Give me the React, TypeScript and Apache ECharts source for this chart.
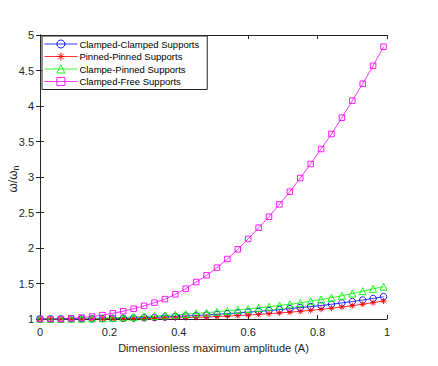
import React, { useEffect, useRef } from "react";
import * as echarts from "echarts";

const amplitude = [
  0, 0.03, 0.06, 0.09, 0.12, 0.15, 0.18, 0.21, 0.24, 0.27, 0.3, 0.33, 0.36, 0.39, 0.42, 0.45, 0.48,
  0.51, 0.54, 0.57, 0.6, 0.63, 0.66, 0.69, 0.72, 0.75, 0.78, 0.81, 0.84, 0.87, 0.9, 0.93, 0.96, 0.99,
];

const clampedClamped = [
  1, 1, 1, 1.001, 1.002, 1.003, 1.005, 1.007, 1.01, 1.014, 1.018, 1.023, 1.029, 1.035, 1.042, 1.049,
  1.057, 1.066, 1.075, 1.085, 1.096, 1.107, 1.119, 1.132, 1.145, 1.16, 1.175, 1.19, 1.207, 1.226,
  1.246, 1.267, 1.29, 1.314,
];

const pinnedPinned = [
  1, 1, 1, 1, 1.0005, 1.001, 1.0015, 1.002, 1.004, 1.005, 1.007, 1.009, 1.012, 1.015, 1.019, 1.024,
  1.029, 1.034, 1.041, 1.048, 1.056, 1.065, 1.075, 1.085, 1.096, 1.108, 1.122, 1.137, 1.152, 1.169,
  1.188, 1.208, 1.23, 1.254,
];

const clampePinned = [
  1, 1, 1.001, 1.003, 1.005, 1.008, 1.012, 1.016, 1.022, 1.028, 1.035, 1.042, 1.05, 1.059, 1.069,
  1.079, 1.09, 1.102, 1.115, 1.128, 1.142, 1.157, 1.173, 1.19, 1.207, 1.226, 1.25, 1.275, 1.3, 1.328,
  1.36, 1.392, 1.425, 1.455,
];

const clampedFree = [
  1, 1, 1, 1.01, 1.02, 1.035, 1.055, 1.08, 1.11, 1.145, 1.185, 1.23, 1.28, 1.348, 1.427, 1.521, 1.615,
  1.723, 1.845, 1.981, 2.127, 2.286, 2.441, 2.615, 2.793, 2.986, 3.183, 3.394, 3.606, 3.835, 4.075,
  4.314, 4.567, 4.835,
];

const seriesNames = [
  "Clamped-Clamped Supports",
  "Pinned-Pinned Supports",
  "Clampe-Pinned Supports",
  "Clamped-Free Supports",
];

const FONT = "Liberation Sans, Arial, sans-serif";
const AXIS_COLOR = "#262626";
const CLEAR = "rgba(255,255,255,0)";
const ASTERISK =
  "path://M0,-1L0,1M-1,0L1,0M-0.7,-0.7L0.7,0.7M-0.7,0.7L0.7,-0.7";

function pairs(ys: number[]) {
  return amplitude.map((x, i) => [x, ys[i]]);
}

export default function App() {
  const ref = useRef<HTMLDivElement>(null);
  useEffect(() => {
    document.body.style.margin = "0";
    const chart = echarts.init(ref.current!, null, { renderer: "svg" });
    const axisCommon = {
      axisLine: { show: true, lineStyle: { color: AXIS_COLOR, width: 1 } },
      axisTick: { show: true, inside: true, length: 4, lineStyle: { color: AXIS_COLOR } },
      splitLine: { show: false },
    };
    const mk = (name: string, data: number[], color: string, symbol: string, size: number) => ({
      name,
      type: "line",
      data: pairs(data),
      symbol,
      symbolSize: size,
      showAllSymbol: true,
      color,
      lineStyle: { color, width: 0.8 },
      itemStyle: { color: CLEAR, borderColor: color, borderWidth: 0.9 },
      emphasis: { disabled: true },
    });
    chart.setOption({
      animation: false,
      backgroundColor: "#ffffff",
      textStyle: { fontFamily: FONT },
      grid: { left: 40, right: 51, top: 35, bottom: 47, containLabel: false, outerBoundsMode: "none" },
      legend: {
        orient: "vertical",
        left: 42,
        top: 36,
        padding: [3, 8, 3, 2],
        itemGap: 2.5,
        itemWidth: 33,
        itemHeight: 10,
        backgroundColor: "#ffffff",
        borderColor: AXIS_COLOR,
        borderWidth: 1,
        lineStyle: { width: 0.8 },
        itemStyle: { color: CLEAR, borderWidth: 0.9 },
        textStyle: { fontFamily: FONT, fontSize: 9.5, color: "#000000", padding: [0, 0, 0, -3] },
        data: seriesNames,
      },
      graphic: [
        {
          type: "text",
          x: 13,
          y: 179,
          rotation: Math.PI / 2,
          style: {
            text: "{a|ω/ω}{s|n}",
            align: "center",
            verticalAlign: "middle",
            rich: {
              a: { fontFamily: FONT, fontSize: 12, fill: AXIS_COLOR, color: AXIS_COLOR },
              s: {
                fontFamily: FONT,
                fontSize: 9,
                fill: AXIS_COLOR,
                color: AXIS_COLOR,
                verticalAlign: "bottom",
                padding: [6, 0, 0, 0],
              },
            },
          },
        },
      ],
      xAxis: [
        {
          type: "value",
          min: 0,
          max: 1,
          interval: 0.2,
          position: "bottom",
          name: "Dimensionless maximum amplitude (A)",
          nameLocation: "middle",
          nameGap: 23,
          nameTextStyle: { fontFamily: FONT, fontSize: 11, color: AXIS_COLOR },
          axisLabel: { fontFamily: FONT, fontSize: 11, color: AXIS_COLOR, margin: 7 },
          ...axisCommon,
        },
        {
          type: "value",
          min: 0,
          max: 1,
          interval: 0.2,
          position: "top",
          axisLabel: { show: false },
          ...axisCommon,
        },
      ],
      yAxis: [
        {
          type: "value",
          min: 1,
          max: 5,
          interval: 0.5,
          position: "left",
          axisLabel: { fontFamily: FONT, fontSize: 11, color: AXIS_COLOR, margin: 6 },
          ...axisCommon,
        },
        {
          type: "value",
          min: 1,
          max: 5,
          interval: 0.5,
          position: "right",
          axisLabel: { show: false },
          ...axisCommon,
        },
      ],
      series: [
        mk(seriesNames[0], clampedClamped, "#0000ff", "circle", 6.5),
        mk(seriesNames[1], pinnedPinned, "#ff0000", ASTERISK, 6),
        mk(seriesNames[2], clampePinned, "#00ff00", "triangle", 7),
        mk(seriesNames[3], clampedFree, "#ff00ff", "rect", 5.5),
      ],
    });
    return () => chart.dispose();
  }, []);
  return <div ref={ref} style={{ width: 438, height: 366 }} />;
}
